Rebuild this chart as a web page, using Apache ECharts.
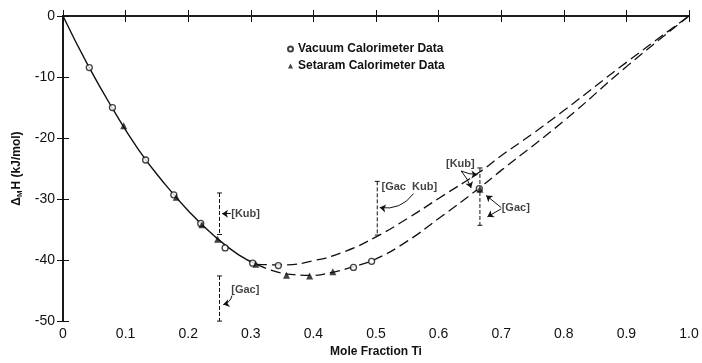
<!DOCTYPE html>
<html>
<head>
<meta charset="utf-8">
<script src="https://cdn.jsdelivr.net/npm/echarts@6/dist/echarts.min.js"></script>
<style>
  html, body { margin: 0; padding: 0; background: #fff; }
  #app { width: 702px; height: 363px; }
</style>
</head>
<body>
<div id="app"></div>
<script>
// tick labels
const xTicks = ['0', '0.1', '0.2', '0.3', '0.4', '0.5', '0.6', '0.7', '0.8', '0.9', '1.0'];

// measured points
const vacuumData = [
    [0.042, -8.45], [0.079, -15.0], [0.132, -23.6], [0.177, -29.3], [0.220, -34.0],
    [0.259, -38.0], [0.303, -40.5], [0.344, -40.9], [0.464, -41.2], [0.493, -40.2],
    [0.665, -28.3]
];
const setaramData = [
    [0.097, -18.0], [0.181, -29.7], [0.222, -34.2], [0.247, -36.6], [0.308, -40.7],
    [0.357, -42.5], [0.394, -42.6], [0.431, -41.9], [0.666, -28.4]
];

// fitted curves
const solidCurve = [
    [0, 0], [0.04, -8.1], [0.08, -15.3], [0.12, -21.8], [0.16, -27.2],
    [0.2, -31.9], [0.24, -35.9], [0.28, -39.1], [0.31, -40.7]
];
const kubCurve = [
    [0.31, -40.7], [0.35, -40.8], [0.4, -40.1], [0.45, -38.6], [0.5, -36.2],
    [0.55, -33.2], [0.6, -29.9], [0.665, -25.6], [0.7, -22.9], [0.75, -19.3],
    [0.8, -15.5], [0.9, -7.6], [1.0, 0]
];
const gacCurve = [
    [0.31, -40.7], [0.34, -41.9], [0.37, -42.4], [0.4, -42.5], [0.43, -42.0],
    [0.46, -41.2], [0.5, -39.8], [0.55, -36.9], [0.6, -33.2], [0.665, -28.2],
    [0.7, -25.3], [0.8, -17.2], [0.9, -8.3], [1.0, 0]
];

// literature markers (vertical dashed bars)
const markerBars = [
    [[0.25, -29.0], [0.25, -35.8]],
    [[0.25, -42.6], [0.25, -50]],
    [[0.502, -27.1], [0.502, -35.9]],
    [[0.666, -24.9], [0.666, -34.3]]
];
const noteLabels = [
    { name: '[Kub]', value: [0.268, -32.4] },
    { name: '[Gac]', value: [0.268, -44.9] },
    { name: '[Gac  Kub]', value: [0.508, -28.0] },
    { name: '[Kub]', value: [0.611, -24.3] },
    { name: '[Gac]', value: [0.700, -31.5] }
];
const noteArrows = [
    { coords: [[0.268, -32.4], [0.254, -32.4]], curve: 0 },
    { coords: [[0.270, -45.8], [0.256, -47.3]], curve: 0.3 },
    { coords: [[0.560, -29.1], [0.506, -31.4]], curve: 0.3 },
    { coords: [[0.636, -25.4], [0.662, -26.0]], curve: -0.1 },
    { coords: [[0.636, -25.4], [0.652, -28.2]], curve: 0.1 },
    { coords: [[0.700, -31.4], [0.676, -29.4]], curve: 0 },
    { coords: [[0.700, -31.6], [0.678, -32.9]], curve: 0 }
];

const font = 'Liberation Sans, Arial, sans-serif';
const ink = '#111';

const chart = echarts.init(document.getElementById('app'));

const axisCommon = {
    axisLine: { lineStyle: { color: ink, width: 1.6 } },
    axisTick: { inside: true, length: 6, lineStyle: { color: ink, width: 1 } },
    splitLine: { show: false }
};

const barSeries = markerBars.map(seg => ({
    type: 'line',
    data: seg,
    symbol: 'rect',
    symbolSize: [5, 1],
    itemStyle: { color: ink },
    lineStyle: { color: ink, width: 1, type: [4, 2] },
    silent: true,
    z: 3
}));

chart.setOption({
    animation: false,
    textStyle: { fontFamily: font },
    grid: { left: 63, right: 13, top: 16, bottom: 35 },
    legend: {
        data: ['Vacuum Calorimeter Data', 'Setaram Calorimeter Data'],
        orient: 'vertical',
        left: 282,
        top: 38,
        itemWidth: 5,
        itemHeight: 5,
        itemGap: 5,
        textStyle: { fontSize: 12, fontWeight: 'bold', color: ink, fontFamily: font }
    },
    xAxis: [
        Object.assign({
            type: 'value', min: 0, max: 1, interval: 0.1, position: 'bottom',
            axisLabel: {
                color: ink, fontSize: 14, margin: 6, fontFamily: font,
                formatter: v => xTicks[Math.round(v * 10)]
            },
            name: 'Mole Fraction Ti',
            nameLocation: 'middle',
            nameGap: 21,
            nameTextStyle: { fontSize: 12, fontWeight: 'bold', color: ink, fontFamily: font }
        }, axisCommon),
        Object.assign({
            type: 'value', min: 0, max: 1, interval: 0.1, position: 'top',
            axisLabel: { show: false }
        }, axisCommon)
    ],
    yAxis: [
        Object.assign({
            type: 'value', min: -50, max: 0, interval: 10, position: 'left',
            axisLabel: { color: ink, fontSize: 14, margin: 8, fontFamily: font },
            name: '{d|Δ}{s|M}{d|H (kJ/mol)}',
            nameLocation: 'middle',
            nameGap: 38,
            nameTextStyle: {
                rich: {
                    d: { fontSize: 12, fontWeight: 'bold', color: ink, fontFamily: font },
                    s: { fontSize: 8, fontWeight: 'bold', color: ink, fontFamily: font, padding: [6, 1, 0, 0] }
                }
            }
        }, axisCommon),
        Object.assign({
            type: 'value', min: -50, max: 0, interval: 10, position: 'right',
            axisLabel: { show: false }
        }, axisCommon)
    ],
    series: [
        {
            type: 'line', data: solidCurve, smooth: true, symbol: 'none',
            lineStyle: { color: ink, width: 1.4 }, z: 2
        },
        {
            type: 'line', data: kubCurve, smooth: true, symbol: 'none',
            lineStyle: { color: ink, width: 1.3, type: [10, 5] }, z: 2
        },
        {
            type: 'line', data: gacCurve, smooth: true, symbol: 'none',
            lineStyle: { color: ink, width: 1.3, type: [10, 5] }, z: 2
        },
        ...barSeries,
        {
            name: 'Vacuum Calorimeter Data',
            type: 'scatter', data: vacuumData, symbol: 'circle', symbolSize: 6,
            itemStyle: { color: '#fff', borderColor: ink, borderWidth: 1.3 }, z: 5
        },
        {
            name: 'Setaram Calorimeter Data',
            type: 'scatter', data: setaramData, symbol: 'triangle', symbolSize: 7,
            itemStyle: { color: ink }, z: 6
        },
        {
            type: 'scatter', data: noteLabels, symbol: 'circle', symbolSize: 1,
            itemStyle: { color: 'rgba(0,0,0,0)' }, silent: true,
            label: {
                show: true, position: 'right', distance: 0,
                formatter: p => p.name,
                fontSize: 11, fontWeight: 'bold', color: ink, fontFamily: font
            }, z: 7
        },
        {
            type: 'lines', coordinateSystem: 'cartesian2d', silent: true,
            symbol: ['none', 'arrow'], symbolSize: 6,
            data: noteArrows.map(a => ({ coords: a.coords, lineStyle: { curveness: a.curve } })),
            lineStyle: { color: ink, width: 1, opacity: 1 }, z: 7
        }
    ]
});
</script>
</body>
</html>
